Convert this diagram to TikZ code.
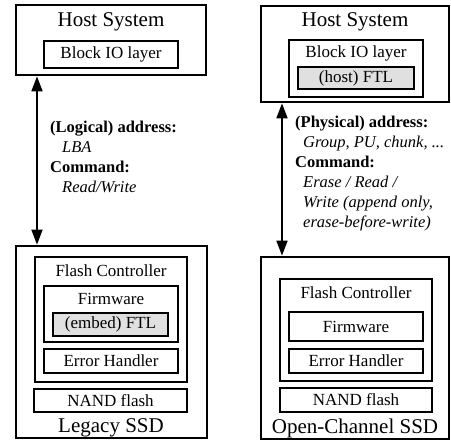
\documentclass[tikz,border=0pt]{standalone}
\usepackage{fontspec}
\setmainfont{Liberation Serif}
\usetikzlibrary{arrows.meta}
\tikzset{
  box/.style={draw, line width=1.7pt, rectangle, inner sep=0pt},
  ftlbox/.style={box, fill=black!12},
  title/.style={font=\fontsize{21}{24}\selectfont, inner sep=0pt},
  inner/.style={font=\fontsize{17}{20}\selectfont, inner sep=0pt},
  note/.style={font=\fontsize{16.5}{20}\selectfont, inner sep=0pt, align=left, anchor=north west},
  link/.style={line width=1.7pt, {Triangle[length=15pt,width=11pt]}-{Triangle[length=15pt,width=11pt]}, shorten <=0.5pt, shorten >=0.5pt}
}
\begin{document}
\begin{tikzpicture}[x=1pt,y=-1pt]
\useasboundingbox (0,0) rectangle (451,442);

% ---- legacy stack: host side
\node[box, minimum width=190pt, minimum height=70pt] (lhost) at (111,40) {};
\node[title] (lhostt) at (111,22) {Host System};
\node[box, minimum width=134pt, minimum height=27pt, inner] (lblock) at (111,54.5) {Block IO layer};

% ---- legacy stack: device side
\node[box, minimum width=191pt, minimum height=192pt] (lssd) at (111.5,342) {};
\node[box, minimum width=152pt, minimum height=125pt] (lfc) at (111,319.5) {};
\node[inner] (lfct) at (111,271) {Flash Controller};
\node[box, minimum width=134pt, minimum height=56pt] (lfw) at (111,314) {};
\node[inner] (lfwt) at (111,299) {Firmware};
\node[ftlbox, minimum width=115pt, minimum height=23pt, inner] (lftl) at (110.5,324.5) {(embed) FTL};
\node[box, minimum width=134pt, minimum height=24pt, inner] (leh) at (111,361) {Error Handler};
\node[box, minimum width=153pt, minimum height=23pt, inner] (lnand) at (110.5,400.5) {NAND flash};
\node[title] (lssdt) at (111,428) {Legacy SSD};

% ---- open-channel stack: host side
\node[box, minimum width=188pt, minimum height=96pt] (rhost) at (355,54) {};
\node[title] (rhostt) at (355,22) {Host System};
\node[box, minimum width=134pt, minimum height=57pt] (rblock) at (356,68.5) {};
\node[inner] (rblockt) at (356,53) {Block IO layer};
\node[ftlbox, minimum width=116pt, minimum height=22pt, inner] (rftl) at (356,78) {(host) FTL};

% ---- open-channel stack: device side
\node[box, minimum width=188pt, minimum height=182pt] (rssd) at (355,348) {};
\node[box, minimum width=152pt, minimum height=102pt] (rfc) at (356,330) {};
\node[inner] (rfct) at (356,293) {Flash Controller};
\node[box, minimum width=134pt, minimum height=29pt, inner] (rfw) at (356,326.5) {Firmware};
\node[box, minimum width=134pt, minimum height=24pt, inner] (reh) at (356,361) {Error Handler};
\node[box, minimum width=152pt, minimum height=24pt, inner] (rnand) at (356,400) {NAND flash};
\node[title] (rssdt) at (355,428) {Open-Channel SSD};

% ---- interfaces
\coordinate (lx) at (37,0);
\coordinate (rx) at (282,0);
\draw[link] (lhost.south -| lx) -- (lssd.north -| lx);
\draw[link] (rhost.south -| rx) -- (rssd.north -| rx);

\node[note] (lnote) at (50,121) {\textbf{(Logical) address:}\\
  \hspace{12pt}\textit{LBA}\\
  \textbf{Command:}\\
  \hspace{12pt}\textit{Read/Write}};
\node[note] (rnote) at (295,116) {\textbf{(Physical) address:}\\
  \hspace{8pt}\textit{Group, PU, chunk, ...}\\
  \textbf{Command:}\\
  \hspace{8pt}\textit{Erase / Read /}\\
  \hspace{8pt}\textit{Write (append only,}\\
  \hspace{8pt}\textit{erase-before-write)}};
\end{tikzpicture}
\end{document}
